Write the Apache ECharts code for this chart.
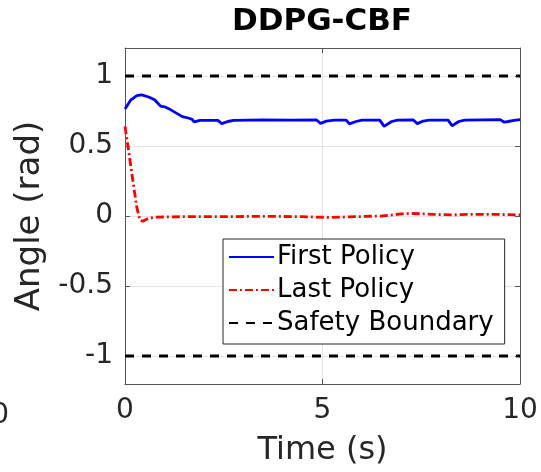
<!DOCTYPE html>
<html>
<head>
<meta charset="utf-8">
<script src="https://cdn.jsdelivr.net/npm/echarts@6/dist/echarts.min.js"></script>
<style>html,body{margin:0;padding:0;background:#fff;}#c{width:541px;height:472px;}</style>
</head>
<body>
<div id="c"></div>
<script>
const titleText = 'DDPG-CBF';
const xName = 'Time (s)';
const yName = 'Angle (rad)';
const xTicks = [0, 5, 10];
const yTicks = [-1, -0.5, 0, 0.5, 1];

const firstT = [0, 0.15, 0.3, 0.42, 0.6, 0.75, 0.85, 0.9, 1.0, 1.15, 1.3, 1.45, 1.6, 1.7, 1.75, 1.9, 2.35, 2.45, 2.6, 2.75, 3.5, 4.2, 4.85, 4.95, 5.1, 5.3, 5.6, 5.68, 5.85, 6.0, 6.45, 6.56, 6.75, 6.9, 7.3, 7.4, 7.55, 7.7, 8.18, 8.28, 8.45, 8.6, 9.5, 9.6, 9.7, 9.85, 10];
const firstV = [0.765, 0.83, 0.86, 0.865, 0.85, 0.83, 0.80, 0.785, 0.78, 0.76, 0.735, 0.71, 0.70, 0.69, 0.672, 0.683, 0.683, 0.66, 0.675, 0.683, 0.687, 0.685, 0.686, 0.662, 0.678, 0.685, 0.685, 0.658, 0.675, 0.685, 0.685, 0.64, 0.675, 0.685, 0.686, 0.66, 0.678, 0.685, 0.685, 0.645, 0.675, 0.685, 0.688, 0.67, 0.675, 0.683, 0.688];

const lastT = [0, 0.1, 0.2, 0.3, 0.38, 0.45, 0.6, 0.8, 1.5, 2.5, 3.5, 4.5, 5.2, 5.8, 6.5, 7.0, 7.3, 7.8, 8.3, 8.8, 9.3, 9.7, 10];
const lastV = [0.64, 0.45, 0.25, 0.06, -0.03, -0.038, -0.015, -0.008, -0.005, -0.005, -0.002, -0.005, -0.01, -0.005, 0.0, 0.015, 0.018, 0.012, 0.008, 0.012, 0.012, 0.01, 0.008];

const boundT = [0, 10];
const upperV = [1, 1];
const lowerV = [-1, -1];

const seriesNames = ['First Policy', 'Last Policy', 'Safety Boundary'];
const strayLabel = '10';

function pairs(t, v) { return t.map((x, i) => [x, v[i]]); }

const FONT = 'DejaVu Sans';
const chart = echarts.init(document.getElementById('c'), null, {renderer: 'canvas'});
const axisCol = '#555';
chart.setOption({
  animation: false,
  backgroundColor: '#fff',
  title: {
    text: titleText, left: 322, top: 6, textAlign: 'center', padding: 0,
    textStyle: {fontFamily: FONT, fontWeight: 'bold', fontSize: 31, color: '#000'}
  },
  grid: {left: 125, right: 21, top: 48, bottom: 86, containLabel: false},
  graphic: [{
    type: 'text', x: 9, y: 416,
    style: {text: strayLabel, textAlign: 'right', textVerticalAlign: 'middle', fontFamily: FONT, fontSize: 28, fill: '#262626'}
  }],
  legend: {
    orient: 'vertical', left: 223, top: 239,
    data: seriesNames,
    itemWidth: 45, itemHeight: 14, itemGap: 3,
    padding: [3, 11, 6, 5],
    backgroundColor: '#fff', borderColor: '#262626', borderWidth: 1,
    itemStyle: {opacity: 0},
    textStyle: {fontFamily: FONT, fontSize: 26, color: '#000', lineHeight: 30, padding: [0, 0, 0, -2]},
    selectedMode: false
  },
  xAxis: [{
    type: 'value', min: 0, max: 10, interval: 5,
    name: xName, nameLocation: 'middle', nameGap: 67,
    nameTextStyle: {fontFamily: FONT, fontSize: 32, color: '#262626', verticalAlign: 'middle'},
    axisLine: {show: true, onZero: false, lineStyle: {color: axisCol, width: 1}},
    axisTick: {show: true, inside: true, length: 5, lineStyle: {color: axisCol}},
    axisLabel: {fontFamily: FONT, fontSize: 28, color: '#262626', margin: 13},
    splitLine: {show: true, lineStyle: {color: '#e3e3e3', width: 1}}
  }, {
    type: 'value', min: 0, max: 10, interval: 5, position: 'top',
    axisLine: {show: true, onZero: false, lineStyle: {color: axisCol, width: 1}},
    axisTick: {show: true, inside: true, length: 5, lineStyle: {color: axisCol}},
    axisLabel: {show: false}, splitLine: {show: false}
  }],
  yAxis: [{
    type: 'value', min: -1.2, max: 1.2,
    name: yName, nameLocation: 'middle', nameGap: 91, nameRotate: 90,
    nameTextStyle: {fontFamily: FONT, fontSize: 34, color: '#262626', verticalAlign: 'middle'},
    axisLine: {show: true, onZero: false, lineStyle: {color: axisCol, width: 1}},
    axisTick: {show: true, inside: true, length: 5, lineStyle: {color: axisCol}, customValues: yTicks},
    axisLabel: {fontFamily: FONT, fontSize: 28, color: '#262626', margin: 12, customValues: yTicks},
    splitLine: {show: true, lineStyle: {color: '#e3e3e3', width: 1}},
    interval: 0.5
  }, {
    type: 'value', min: -1.2, max: 1.2, position: 'right',
    axisLine: {show: true, onZero: false, lineStyle: {color: axisCol, width: 1}},
    axisTick: {show: true, inside: true, length: 5, lineStyle: {color: axisCol}, customValues: yTicks},
    axisLabel: {show: false}, splitLine: {show: false}
  }],
  series: [
    {name: seriesNames[2], type: 'line', data: pairs(boundT, upperV), symbol: 'none', z: 3,
     lineStyle: {color: '#000', width: 2.8, type: [9, 8]}, itemStyle: {color: '#000'}},
    {name: seriesNames[2], type: 'line', data: pairs(boundT, lowerV), symbol: 'none', z: 3,
     lineStyle: {color: '#000', width: 2.8, type: [9, 8]}, itemStyle: {color: '#000'}},
    {name: seriesNames[0], type: 'line', data: pairs(firstT, firstV), symbol: 'none', z: 4,
     lineStyle: {color: '#0000ff', width: 2.8}, itemStyle: {color: '#0000ff'}},
    {name: seriesNames[1], type: 'line', data: pairs(lastT, lastV), symbol: 'none', z: 5,
     lineStyle: {color: '#ff0000', width: 2.8, type: [8, 3, 2, 3]}, itemStyle: {color: '#ff0000'}}
  ]
});
</script>
</body>
</html>
